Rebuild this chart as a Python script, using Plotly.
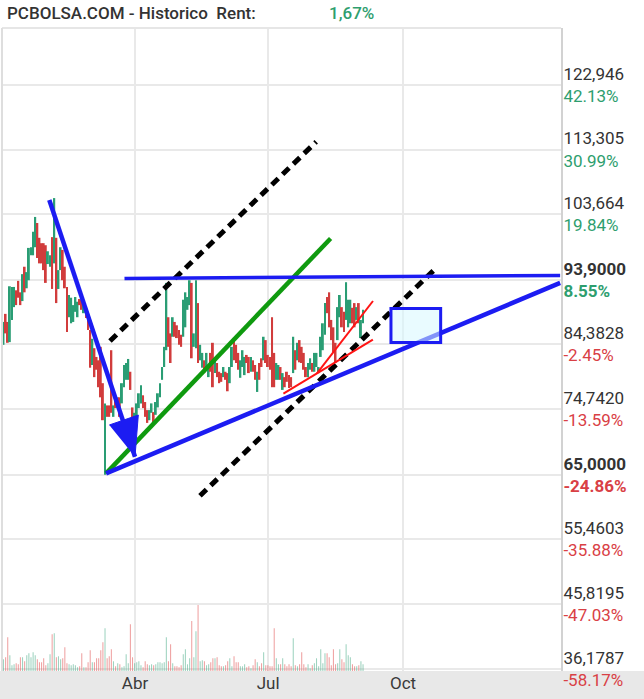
import plotly.graph_objects as go

# ---------------- data ----------------
opens = [84.3, 88.9, 87.7, 84.7, 88.0, 89.9, 92.4, 93.8, 92.1, 90.8,
         95.9, 92.7, 93.9, 97.6, 97.6, 98.8, 102.4, 100.2, 99.4, 99.4,
         99.1, 96.3, 95.9, 100.3, 96.4, 100.2, 92.6, 95.4, 98.4, 95.9,
         92.9, 88.4, 87.5, 87.7, 89.2, 88.4, 91.1, 91.0, 89.0, 89.9,
         89.0, 86.5, 81.3, 83.8, 82.5, 82.0, 84.0, 78.6, 65.0, 75.3,
         75.3, 83.5, 73.6, 76.7, 75.0, 76.5, 75.6, 78.0, 79.1, 79.1,
         80.3, 75.0, 72.7, 72.7, 74.9, 75.6, 76.8, 75.8, 74.6, 73.1,
         74.2, 74.3, 73.9, 75.0, 76.5, 79.1, 81.0, 83.5, 88.4, 86.0,
         85.5, 87.7, 87.2, 86.5, 85.8, 85.5, 86.9, 89.5, 90.2, 93.5,
         84.0, 83.8, 90.5, 82.0, 80.9, 82.0, 81.0, 79.5, 83.1, 84.6,
         80.1, 81.6, 80.3, 80.1, 79.5, 80.3, 80.1, 78.6, 81.0, 85.0,
         84.3, 83.1, 79.4, 81.0, 79.8, 82.8, 82.5, 80.3, 82.0, 81.3,
         77.3, 81.6, 82.3, 82.0, 85.0, 82.8, 82.5, 88.4, 83.1, 79.1,
         79.1, 81.0, 77.6, 79.5, 80.3, 79.8, 79.5, 80.1, 83.5, 82.0,
         85.0, 84.0, 83.1, 81.0, 79.5, 80.6, 81.6, 80.3, 81.0, 80.1,
         82.5, 83.5, 85.8, 91.4, 92.1, 88.0, 86.9, 84.6, 85.0, 88.4,
         89.9, 89.2, 88.0, 86.9, 87.5, 89.8, 90.5, 88.0, 90.5, 85.3,
         87.5]
closes = [87.7, 86.0, 84.6, 93.0, 92.9, 92.9, 90.2, 91.3, 90.2, 94.8,
          92.1, 95.1, 98.7, 98.8, 101.1, 103.3, 97.2, 96.4, 96.4, 95.4,
          93.5, 98.2, 97.6, 92.6, 106.1, 90.5, 95.4, 98.8, 93.9, 92.7,
          86.2, 91.7, 91.3, 90.2, 91.4, 90.7, 90.2, 89.5, 90.5, 88.3,
          86.5, 80.9, 85.2, 79.5, 80.6, 78.0, 76.5, 73.1, 75.6, 73.6,
          73.6, 74.2, 75.3, 74.9, 76.5, 73.6, 78.6, 81.3, 81.6, 82.2,
          77.6, 73.4, 74.2, 75.6, 77.1, 78.3, 74.9, 73.6, 72.7, 74.6,
          75.6, 72.8, 75.8, 77.1, 78.6, 81.0, 84.0, 93.5, 84.0, 81.6,
          88.4, 85.5, 85.3, 84.3, 84.0, 91.0, 92.1, 91.4, 93.9, 82.3,
          86.0, 93.9, 81.6, 84.3, 83.1, 80.1, 83.1, 81.3, 80.3, 78.0,
          82.3, 79.5, 78.6, 78.8, 81.0, 79.1, 77.4, 81.0, 84.0, 82.0,
          81.6, 80.6, 82.0, 83.5, 82.5, 81.6, 80.1, 82.5, 80.3, 79.1,
          80.3, 79.1, 81.0, 85.5, 81.6, 81.0, 80.6, 78.0, 78.0, 81.6,
          81.3, 79.1, 80.1, 78.0, 78.8, 77.9, 78.0, 85.5, 80.6, 84.6,
          81.7, 81.6, 80.6, 79.5, 81.6, 82.3, 80.3, 83.1, 83.1, 81.0,
          85.5, 87.5, 90.5, 89.0, 86.9, 85.0, 83.2, 81.6, 89.9, 91.7,
          86.9, 86.2, 93.6, 91.0, 91.0, 87.5, 86.9, 89.9, 87.5, 88.0,
          89.5]
volumes = [35, 41, 101, 47, 17, 20, 23, 20, 41, 41, 29, 47, 53, 41, 56, 47, 35, 26, 26, 38,
           17, 23, 50, 110, 113, 41, 44, 35, 38, 71, 23, 20, 17, 20, 17, 11, 14, 53, 11, 11,
           26, 62, 26, 26, 38, 38, 62, 86, 128, 38, 44, 65, 29, 14, 23, 20, 11, 14, 50, 23,
           140, 41, 23, 26, 29, 17, 11, 29, 20, 17, 20, 17, 20, 26, 26, 23, 26, 101, 29, 80,
           23, 14, 14, 11, 17, 50, 65, 20, 38, 149, 41, 119, 197, 29, 32, 29, 17, 20, 26, 38,
           38, 41, 17, 14, 14, 17, 29, 38, 14, 44, 26, 26, 14, 14, 20, 11, 14, 8, 17, 35,
           26, 14, 23, 56, 17, 17, 14, 14, 128, 38, 20, 20, 38, 20, 14, 20, 14, 98, 17, 14,
           20, 56, 20, 11, 20, 8, 17, 23, 38, 14, 65, 23, 53, 53, 41, 17, 65, 20, 23, 65,
           35, 26, 80, 47, 41, 20, 14, 14, 17, 29, 20]

month_pos = [62.2, 125.1, 188.9]
month_labels = ["Abr", "Jul", "Oct"]

level_vals = [122.946, 113.305, 103.664, 93.9, 84.3828, 74.742, 65.0, 55.4603, 45.8195, 36.1787]
level_txt = ["122,946", "113,305", "103,664", "93,9000", "84,3828",
             "74,7420", "65,0000", "55,4603", "45,8195", "36,1787"]
level_pct = ["42.13%", "30.99%", "19.84%", "8.55%", "-2.45%",
             "-13.59%", "-24.86%", "-35.88%", "-47.03%", "-58.17%"]
level_bold = [False, False, False, True, False, False, True, False, False, False]

# drawings (session index, price)
arrow_x = [21.65, 62.17]
arrow_y = [105.82, 67.68]
arrow_head_x = [50.02, 63.74, 62.17]
arrow_head_y = [72.39, 73.87, 67.68]
green_x = [48.5, 154.66]
green_y = [65.2, 100.1]
support_x = [48.5, 263.2]
support_y = [65.2, 93.5]
resist_x = [57.2, 263.2]
resist_y = [94.15, 94.6]
chan_up_x = [50.35, 147.85]
chan_up_y = [84.87, 114.46]
chan_lo_x = [92.9, 204.2]
chan_lo_y = [61.87, 95.59]
red1_x = [132.34, 174.66]
red1_y = [77.04, 85.06]
red2_x = [148.2, 174.7]
red2_y = [80.05, 90.81]
box_x = [183.2, 206.7]
box_y = [84.66, 89.69]

title_text = "PCBOLSA.COM - Historico\u00a0 Rent:"
rent_text = "1,67%"

# ---------------- styles ----------------
GREEN = "#2a9d74"
RED = "#d13c3c"
VGREEN = "rgba(42,157,116,0.45)"
VRED = "rgba(224,70,70,0.5)"
BLUE = "#1c1cf2"
PCT_GREEN = "#2e9e6e"
PCT_RED = "#d94045"
GRID = "#e9e9e9"

n = len(opens)
xs = list(range(n))
up = [c >= o for o, c in zip(opens, closes)]

fig = go.Figure()

fig.add_trace(go.Bar(
    x=xs, y=volumes, yaxis="y2", width=0.5,
    marker=dict(color=[VGREEN if u else VRED for u in up], line=dict(width=0)),
    hoverinfo="skip"))

fig.add_trace(go.Bar(
    x=xs, base=[min(o, c) for o, c in zip(opens, closes)],
    y=[abs(c - o) for o, c in zip(opens, closes)], width=0.9,
    marker=dict(color=[GREEN if u else RED for u in up], line=dict(width=0)),
    hoverinfo="skip"))


def line(x, y, color, width, dash=None):
    fig.add_trace(go.Scatter(x=x, y=y, mode="lines", hoverinfo="skip",
                             line=dict(color=color, width=width, dash=dash)))


line(chan_up_x, chan_up_y, "black", 5, "9px,6px")
line(chan_lo_x, chan_lo_y, "black", 5, "9px,6px")
line(green_x, green_y, "#0f9a0f", 4.5)
line(resist_x, resist_y, BLUE, 3.5)
line(support_x, support_y, BLUE, 4.5)
line(arrow_x, arrow_y, BLUE, 4.5)
fig.add_trace(go.Scatter(x=arrow_head_x, y=arrow_head_y, mode="lines", fill="toself",
                         fillcolor=BLUE, line=dict(color=BLUE, width=1), hoverinfo="skip"))
line(red1_x, red1_y, "#ff1414", 2)
line(red2_x, red2_y, "#ff1414", 2)

ticktext = []
for t, p, b in zip(level_txt, level_pct, level_bold):
    col = PCT_RED if p.startswith("-") else PCT_GREEN
    if b:
        ticktext.append(f"<b>{t}</b><br><span style='color:{col}'><b>{p}</b></span>")
    else:
        ticktext.append(f"{t}<br><span style='color:{col}'>{p}</span>")

fig.update_layout(
    width=644, height=699, autosize=False,
    margin=dict(l=2, r=83, t=28, b=28),
    paper_bgcolor="white", plot_bgcolor="white",
    showlegend=False, barmode="overlay",
    font=dict(family="Roboto", size=17, color="#333333"),
    xaxis=dict(range=[-0.71, 263.6], tickmode="array", tickvals=month_pos, ticktext=month_labels,
               showgrid=True, gridcolor=GRID, gridwidth=2, zeroline=False, showline=False,
               ticks="", tickfont=dict(size=17, color="#3a3a3a")),
    yaxis=dict(range=[35.84, 131.37], side="right", tickmode="array", tickvals=level_vals,
               ticktext=ticktext, showgrid=True, gridcolor=GRID, gridwidth=2, zeroline=False,
               showline=True, linecolor="#d2d2d2", linewidth=2, ticks="",
               ticklabelstandoff=-3,
               tickfont=dict(size=17, color="#333333")),
    yaxis2=dict(overlaying="y", range=[0, max(volumes) * 9.75], visible=False),
)

fig.add_shape(type="rect", xref="paper", yref="paper", x0=-0.01, x1=1.2, y0=-0.06, y1=0,
              fillcolor="#e8e8e8", line=dict(width=0), layer="below")
fig.add_shape(type="line", xref="paper", yref="paper", x0=0, x1=1, y0=1, y1=1,
              line=dict(color="#e6e6e6", width=2))
fig.add_shape(type="line", xref="paper", yref="paper", x0=0, x1=0, y0=0, y1=1,
              line=dict(color="#dedede", width=2))
fig.add_shape(type="rect", xref="x", yref="y", x0=box_x[0], x1=box_x[1], y0=box_y[0], y1=box_y[1],
              fillcolor="rgba(215,248,255,0.55)", line=dict(color=BLUE, width=3))

fig.add_annotation(text=title_text, xref="paper", yref="paper", x=0.0054, y=1.0241,
                   xanchor="left", yanchor="middle", showarrow=False,
                   font=dict(family="Roboto", size=17, color="#333333", weight=500))
fig.add_annotation(text=rent_text, xref="paper", yref="paper", x=0.5814, y=1.0241,
                   xanchor="left", yanchor="middle", showarrow=False,
                   font=dict(family="Roboto", size=17, color=PCT_GREEN, weight=500))

fig.write_html("out.html", config={"displayModeBar": False},
               post_script="document.body.style.margin='0';document.body.style.overflow='hidden';")
